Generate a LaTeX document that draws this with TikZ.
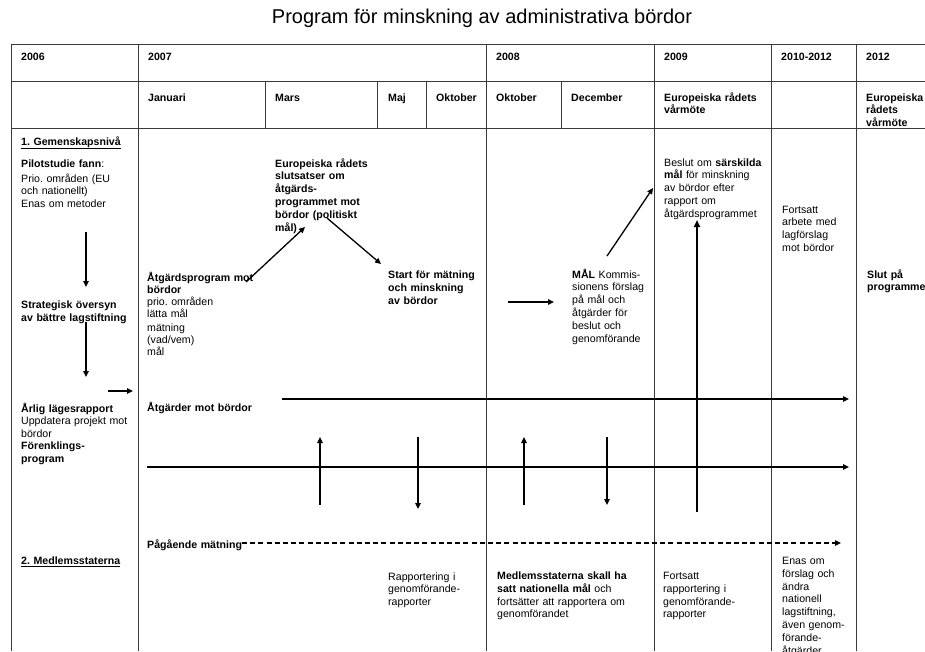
\documentclass[tikz,border=0pt]{standalone}
\usepackage{fontspec}
\setmainfont{Liberation Sans}
\usepackage{tikz}
\usetikzlibrary{arrows.meta}
\definecolor{ink}{HTML}{000000}
\definecolor{rule}{HTML}{3A3A3A}
\newcommand\fs{\fontsize{10.6}{12.8}\selectfont}
\frenchspacing
\tikzset{
  grid/.style={draw=rule, line width=0.8pt},
  flow/.style={draw=ink, line width=1.3pt, -{Triangle[length=6pt,width=5.5pt]}},
  bigflow/.style={flow, line width=2.6pt, -{Triangle[length=7pt,width=6pt]}},
  plan/.style={flow, dash pattern=on 5pt off 3.2pt},
  lab/.style={anchor=base west, inner sep=0pt, text width=140pt, align=left, font=\fs, text=ink},
  labb/.style={lab, font=\fs\bfseries}
}

\begin{document}
\begin{tikzpicture}[x=1pt, y=-1pt]
  \useasboundingbox (0,0) rectangle (925,651);
  \clip (0,0) rectangle (925,651);

  \node (title) at (482,18) {\fontsize{20}{23}\selectfont Program för minskning av administrativa bördor};

  % table
  \draw[grid] (11,44.5) -- (925,44.5);
  \draw[grid] (11,81) -- (925,81);
  \draw[grid] (11,128) -- (925,128);
  \draw[grid] (11,44.5) -- (11,651);
  \foreach \x in {138.7,486,654,771,856}
    \draw[grid] (\x,44.5) -- (\x,651);
  \foreach \x in {265.7,377.7,426,561.7}
    \draw[grid] (\x,81) -- (\x,128);

  % header
  \node[labb] (y2006) at (21,60) {2006};
  \node[labb] (y2007) at (148,60) {2007};
  \node[labb] (y2008) at (496,60) {2008};
  \node[labb] (y2009) at (664,60) {2009};
  \node[labb] (y2010) at (781,60) {2010-2012};
  \node[labb] (y2012) at (866,60) {2012};
  \node[labb] (jan) at (148,101) {Januari};
  \node[labb] (mar) at (275,101) {Mars};
  \node[labb] (maj) at (388,101) {Maj};
  \node[labb] (okt1) at (436,101) {Oktober};
  \node[labb] (okt2) at (496,101) {Oktober};
  \node[labb] (dec) at (571,101) {December};
  \node[labb] (var09) at (664,101) {Europeiska rådets\\vårmöte};
  \node[labb] (var12) at (866,101) {Europeiska\\rådets\\vårmöte};

  % 1. Gemenskapsnivå
  \node[labb] (gem) at (21,145) {\underline{1. Gemenskapsnivå}};
  \node[lab] (pilot) at (21,167.5) {\textbf{Pilotstudie fann}:};
  \node[lab] (prio) at (21,182) {Prio. områden (EU\\och nationellt)\\Enas om metoder};
  \node[labb] (strat) at (21,308.5) {Strategisk översyn\\av bättre lagstiftning};
  \node[lab] (arlig) at (21,412) {\textbf{Årlig lägesrapport}\\Uppdatera projekt mot\\bördor};
  \node[labb] (forenk) at (21,449.5) {Förenklings-\\program};
  \node[labb] (medl) at (21,564.5) {\underline{2. Medlemsstaterna}};

  \coordinate (a1s) at (86,232);  \coordinate (a1e) at (86,287);
  \coordinate (a2s) at (86,322);  \coordinate (a2e) at (86,377);
  \coordinate (a3s) at (108,391); \coordinate (a3e) at (133,391);
  \draw[flow] (a1s) -- (a1e);
  \draw[flow] (a2s) -- (a2e);
  \draw[flow] (a3s) -- (a3e);

  % 2007
  \node[lab, font=\fontsize{10.6}{12}\selectfont] (atgprog) at (147,281)
    {\textbf{Åtgärdsprogram mot}\\\textbf{bördor}\\prio. områden\\lätta mål\\[2pt]mätning\\(vad/vem)\\mål};
  \node[labb] (slut) at (275,167) {Europeiska rådets\\slutsatser om\\åtgärds-\\programmet mot\\bördor (politiskt\\mål)};
  \node[labb] (start) at (388,278.5) {Start för mätning\\och minskning\\av bördor};
  \coordinate (b1s) at (246,282); \coordinate (b1e) at (305,227);
  \coordinate (b2s) at (327,218); \coordinate (b2e) at (381,264);
  \draw[flow] (b1s) -- (b1e);
  \draw[flow] (b2s) -- (b2e);

  % 2008
  \node[lab] (mal) at (572,278) {\textbf{MÅL} Kommis-\\sionens förslag\\på mål och\\åtgärder för\\beslut och\\genomförande};
  \coordinate (c1s) at (508,302); \coordinate (c1e) at (554,302);
  \coordinate (c2s) at (607,256); \coordinate (c2e) at (653,188);
  \draw[flow] (c1s) -- (c1e);
  \draw[flow] (c2s) -- (c2e);

  % 2009 and later
  \node[lab] (beslut) at (664,166) {Beslut om \textbf{särskilda}\\\textbf{mål} för minskning\\av bördor efter\\rapport om\\åtgärdsprogrammet};
  \coordinate (d1s) at (697,512); \coordinate (d1e) at (697,220);
  \draw[bigflow] (d1s) -- (d1e);
  \node[lab] (lagf) at (782,213) {Fortsatt\\arbete med\\lagförslag\\mot bördor};
  \node[labb] (slutp) at (867,278) {Slut på\\programmet};

  % lower band
  \node[labb] (atgmot) at (147,411.5) {Åtgärder mot bördor};
  \coordinate (h1s) at (282,399); \coordinate (h1e) at (849,399);
  \coordinate (h2s) at (147,467); \coordinate (h2e) at (849,467);
  \draw[flow] (h1s) -- (h1e);
  \draw[flow] (h2s) -- (h2e);
  \coordinate (u1s) at (320,505); \coordinate (u1e) at (320,437);
  \coordinate (v1s) at (418,437); \coordinate (v1e) at (418,509);
  \coordinate (u2s) at (524,505); \coordinate (u2e) at (524,437);
  \coordinate (v2s) at (607,437); \coordinate (v2e) at (607,505);
  \draw[flow] (u1s) -- (u1e);
  \draw[flow] (v1s) -- (v1e);
  \draw[flow] (u2s) -- (u2e);
  \draw[flow] (v2s) -- (v2e);

  \node[labb] (pag) at (147,548.5) {Pågående mätning};
  \coordinate (p1s) at (242,543); \coordinate (p1e) at (841,543);
  \draw[plan] (p1s) -- (p1e);

  \node[lab] (rapp) at (388,580) {Rapportering i\\genomförande-\\rapporter};
  \node[lab] (nat) at (497,579.5) {\textbf{Medlemsstaterna skall ha}\\\textbf{satt nationella mål} och\\fortsätter att rapportera om\\genomförandet};
  \node[lab] (fort) at (663,579.5) {Fortsatt\\rapportering i\\genomförande-\\rapporter};
  \node[lab] (enas) at (782,564.5) {Enas om\\förslag och\\ändra\\nationell\\lagstiftning,\\även genom-\\förande-\\åtgärder};
\end{tikzpicture}
\end{document}
